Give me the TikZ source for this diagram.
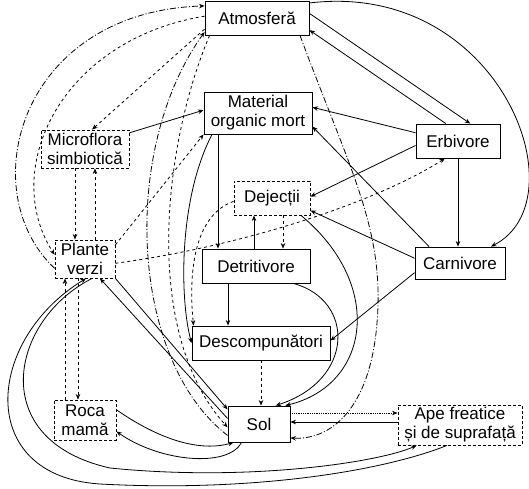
\documentclass[tikz,border=0pt]{standalone}
\usepackage{fontspec}
\setmainfont{Liberation Sans}
\usetikzlibrary{arrows.meta}

\begin{document}
\begin{tikzpicture}[x=1pt, y=-1pt, >={Stealth[length=5.5pt, width=4.5pt]},
    box/.style={draw, line width=0.9pt, fill=white, align=center, inner sep=1pt,
        font=\fontsize{17}{19}\selectfont},
    boxd/.style={box, densely dashed},
    flux/.style={->, line width=0.8pt},
    fluxd/.style={flux, dashed},
    fluxdd/.style={flux, dash pattern=on 6pt off 2pt on 1pt off 2pt},
    fluxp/.style={flux, densely dotted}]

    \useasboundingbox (0,0) rectangle (529,488);

    % -------------------------------------------------------------
    % COMPARTMENTS
    % -------------------------------------------------------------
    \node[box, minimum width=104pt, minimum height=34pt] (atm) at (257,18) {Atmosferă};
    \node[box, minimum width=108pt, minimum height=42pt] (mat) at (258,113) {Material\\organic mort};
    \node[boxd, minimum width=88pt, minimum height=38pt] (micro) at (85,149) {Microflora\\simbiotică};
    \node[box, minimum width=84pt, minimum height=34pt] (erb) at (458,141) {Erbivore};
    \node[boxd, minimum width=76pt, minimum height=34pt] (dej) at (272,198) {Dejecții};
    \node[boxd, minimum width=60pt, minimum height=38pt] (plante) at (85,259) {Plante\\verzi};
    \node[box, minimum width=108pt, minimum height=34pt] (detr) at (256,266) {Detritivore};
    \node[box, minimum width=90pt, minimum height=32pt] (carn) at (460,263) {Carnivore};
    \node[box, minimum width=138pt, minimum height=34pt] (desc) at (261,343) {Descompunători};
    \node[boxd, minimum width=62pt, minimum height=40pt] (roca) at (85,420) {Roca\\mamă};
    \node[box, minimum width=62pt, minimum height=36pt] (sol) at (259,424) {Sol};
    \node[boxd, minimum width=124pt, minimum height=40pt] (ape) at (460,425) {Ape freatice\\și de suprafață};

    % -------------------------------------------------------------
    % ATMOSFERA
    % -------------------------------------------------------------
    \draw[fluxdd] (plante.197) .. controls (-28,190) and (20,12) .. (atm.167);
    \draw[fluxd] (atm.178) .. controls (60,40) and (0,170) .. (plante.172);
    \draw[fluxd] (atm.192) -- (micro.70);
    \draw[flux] (atm.5) -- (erb.55);
    \draw[flux] (erb.125) -- (atm.347);
    \draw[flux] (atm.16) .. controls (500,-20) and (582,200) .. (carn.28);
    \draw[fluxdd] ([xshift=43pt]atm.south) .. controls (350,170) and (385,230) .. (377,323)
        .. controls (370,410) and (330,440) .. (sol.336);
    \draw[fluxd] ([xshift=5pt]atm.south west) .. controls (165,140) and (140,330) .. (sol.186);
    \draw[fluxdd] (sol.200) .. controls (130,360) and (120,150) .. (atm.195);

    % -------------------------------------------------------------
    % PLANTE, MICROFLORA
    % -------------------------------------------------------------
    \draw[fluxd] ([xshift=-10pt]micro.south) -- ([xshift=-10pt]micro.south |- plante.north);
    \draw[fluxd] ([xshift=10pt]plante.north) -- ([xshift=10pt]plante.north |- micro.south);
    \draw[flux] (micro.20) -- (mat.177);
    \draw[fluxd] (plante.25) -- (mat.south west);
    \draw[fluxd] (plante.352) .. controls (250,245) and (380,200) .. (erb.233);

    % -------------------------------------------------------------
    % CONSUMATORI
    % -------------------------------------------------------------
    \draw[flux] (erb.169) -- (mat.6);
    \draw[flux] (carn.152) -- (mat.346);
    \draw[flux] (erb.186) -- (dej.2);
    \draw[flux] (carn.174) -- (dej.342);
    \draw[flux] (erb.south) -- (erb.south |- carn.north);
    \draw[flux] (carn.192) -- (desc.2);

    % -------------------------------------------------------------
    % DETRITUS
    % -------------------------------------------------------------
    \draw[flux] ([xshift=-40pt]mat.south) -- ([xshift=-40pt]mat.south |- detr.north);
    \draw[flux] ([xshift=-18pt]dej.south |- detr.north) -- ([xshift=-18pt]dej.south);
    \draw[fluxd] ([xshift=11pt]dej.south) -- ([xshift=11pt]dej.south |- detr.north);
    \draw[flux] ([xshift=-28pt]detr.south) -- ([xshift=-28pt]detr.south |- desc.north);
    \draw[fluxd] (desc.south) -- (desc.south |- sol.north);
    \draw[flux] ([xshift=-46pt]mat.south) .. controls (178,200) and (180,300) .. (desc.west);
    \draw[fluxd] (dej.185) .. controls (195,215) and (188,270) .. ([xshift=2pt]desc.north west);
    \draw[flux] (detr.335) .. controls (355,300) and (355,380) .. (sol.48);
    \draw[flux] (dej.329) .. controls (385,285) and (370,385) .. (sol.35);

    % -------------------------------------------------------------
    % SOL, ROCA, APE
    % -------------------------------------------------------------
    \draw[flux] (plante.south east) -- (sol.155);
    \draw[flux] (sol.170) -- ([xshift=15pt]plante.south);
    \draw[fluxd] ([xshift=-20pt]roca.north) -- ([xshift=-20pt]roca.north |- plante.south);
    \draw[fluxd] ([xshift=-7pt]plante.south) -- ([xshift=-7pt]plante.south |- roca.north);
    \draw[flux] (roca.18) .. controls (160,440) and (200,452) .. ([xshift=6pt]sol.south west);
    \draw[flux] ([xshift=14pt]sol.south west) .. controls (228,468) and (160,462) .. (roca.340);
    \draw[fluxp] ([yshift=11pt]sol.east) -- ([yshift=11pt]sol.east -| ape.west);
    \draw[flux] ([yshift=3pt]ape.west) -- ([yshift=3pt]ape.west -| sol.east);
    \draw[flux] ([xshift=7pt]plante.south) .. controls (10,320) and (-15,440) .. (110,468)
        .. controls (250,482) and (380,462) .. ([xshift=19pt]ape.south west);
    \draw[flux] ([xshift=-13pt]ape.south) .. controls (380,472) and (250,492) .. (100,484)
        .. controls (-25,476) and (-15,340) .. ([xshift=1pt]plante.south);

\end{tikzpicture}
\end{document}
